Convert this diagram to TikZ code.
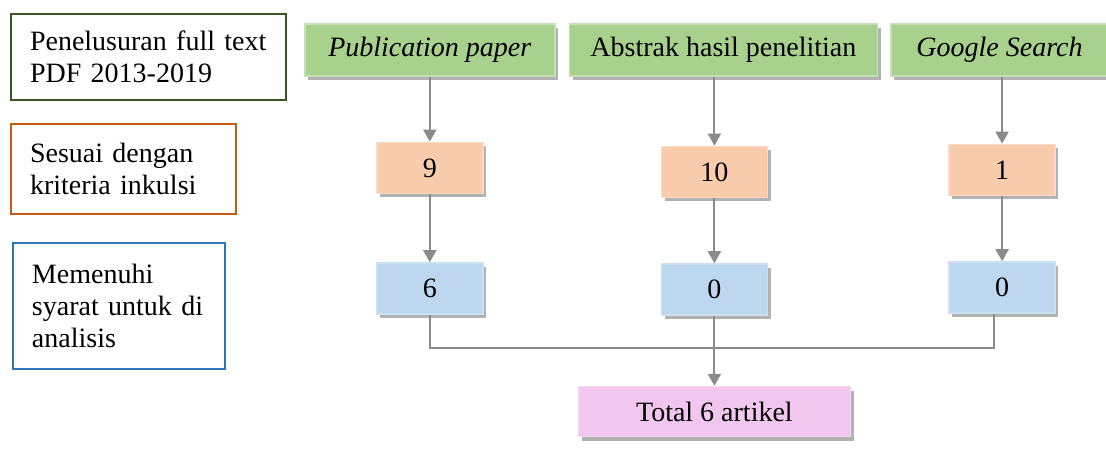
\documentclass[tikz,border=0pt]{standalone}
\usepackage{fontspec}
\setmainfont{Liberation Serif}
\usetikzlibrary{arrows.meta,positioning,shadows}

\definecolor{srcfill}{RGB}{169,209,142}
\definecolor{srcline}{RGB}{197,224,180}
\definecolor{fndfill}{RGB}{248,203,173}
\definecolor{fndline}{RGB}{251,218,196}
\definecolor{valfill}{RGB}{189,215,238}
\definecolor{valline}{RGB}{205,224,242}
\definecolor{totfill}{RGB}{241,199,239}
\definecolor{totline}{RGB}{246,215,244}
\definecolor{keygreen}{RGB}{56,87,35}
\definecolor{keyorange}{RGB}{197,90,17}
\definecolor{keyblue}{RGB}{46,117,182}
\definecolor{linkgray}{RGB}{138,138,138}

\begin{document}
\begin{tikzpicture}[
    x=0.5pt, y=-0.5pt,
    font=\fontsize{14}{16}\selectfont,
    shade/.style={drop shadow={shadow xshift=1.6pt, shadow yshift=-2pt, opacity=0.55, fill=black!55}},
    key/.style={draw, line width=1pt, align=left, anchor=north west, inner xsep=9.5pt},
    src/.style={shade, draw=srcline, fill=srcfill, line width=0.8pt, minimum height=26pt, anchor=north west},
    found/.style={shade, draw=fndline, fill=fndfill, line width=0.8pt, minimum width=53pt, minimum height=25.5pt},
    valid/.style={shade, draw=valline, fill=valfill, line width=0.8pt, minimum width=53pt, minimum height=25.5pt},
    total/.style={shade, draw=totline, fill=totfill, line width=0.8pt, minimum width=136pt, minimum height=25pt},
    arrow/.style={-{Triangle[width=6.5pt, length=6pt]}, draw=linkgray, fill=linkgray, line width=1pt},
    link/.style={draw=linkgray, line width=1pt}
  ]
    \useasboundingbox (0,0) rectangle (1106,451);

    % keterangan
    \node[key, draw=keygreen, text width=118.5pt, minimum height=43pt] (ket1) at (10,13) {Penelusuran full text\\PDF 2013-2019};
    \node[key, draw=keyorange, text width=93.5pt, minimum height=45pt] (ket2) at (10,123) {Sesuai dengan\\kriteria inkulsi};
    \node[key, draw=keyblue, text width=87pt, minimum height=63pt] (ket3) at (12,242) {Memenuhi\\syarat untuk di\\analisis};

    % sumber
    \node[src, minimum width=125pt] (pub) at (304,23) {\textit{Publication paper}};
    \node[src, minimum width=154pt, right=6.5pt of pub.north east, anchor=north west] (abs) {Abstrak hasil penelitian};
    \node[src, minimum width=108.5pt, right=6pt of abs.north east, anchor=north west] (ggl) {\textit{Google Search}};

    % hasil
    \node[found, below=32.5pt of pub] (f9) {9};
    \node[found, below=34.5pt of abs, xshift=-4.5pt] (f10) {10};
    \node[found, below=33.5pt of ggl, xshift=1.3pt] (f1) {1};
    \node[valid, below=34pt of f9] (v6) {6};
    \node[valid, below=32.5pt of f10] (v0a) {0};
    \node[valid, below=32.5pt of f1] (v0g) {0};
    \node[total, below=35pt of v0a] (tot) {Total 6 artikel};
    \coordinate (mid) at ([yshift=-16pt]v0a.south);

    \draw[arrow] (pub) -- (f9);
    \draw[arrow] (f10.north |- abs.south) -- (f10);
    \draw[arrow] (f1.north |- ggl.south) -- (f1);
    \draw[arrow] (f9) -- (v6);
    \draw[arrow] (f10) -- (v0a);
    \draw[arrow] (f1) -- (v0g);
    \draw[link] (v6.south) |- (mid) -| ([xshift=-4pt]v0g.south);
    \draw[arrow] (v0a) -- (tot);
  \end{tikzpicture}
\end{document}
